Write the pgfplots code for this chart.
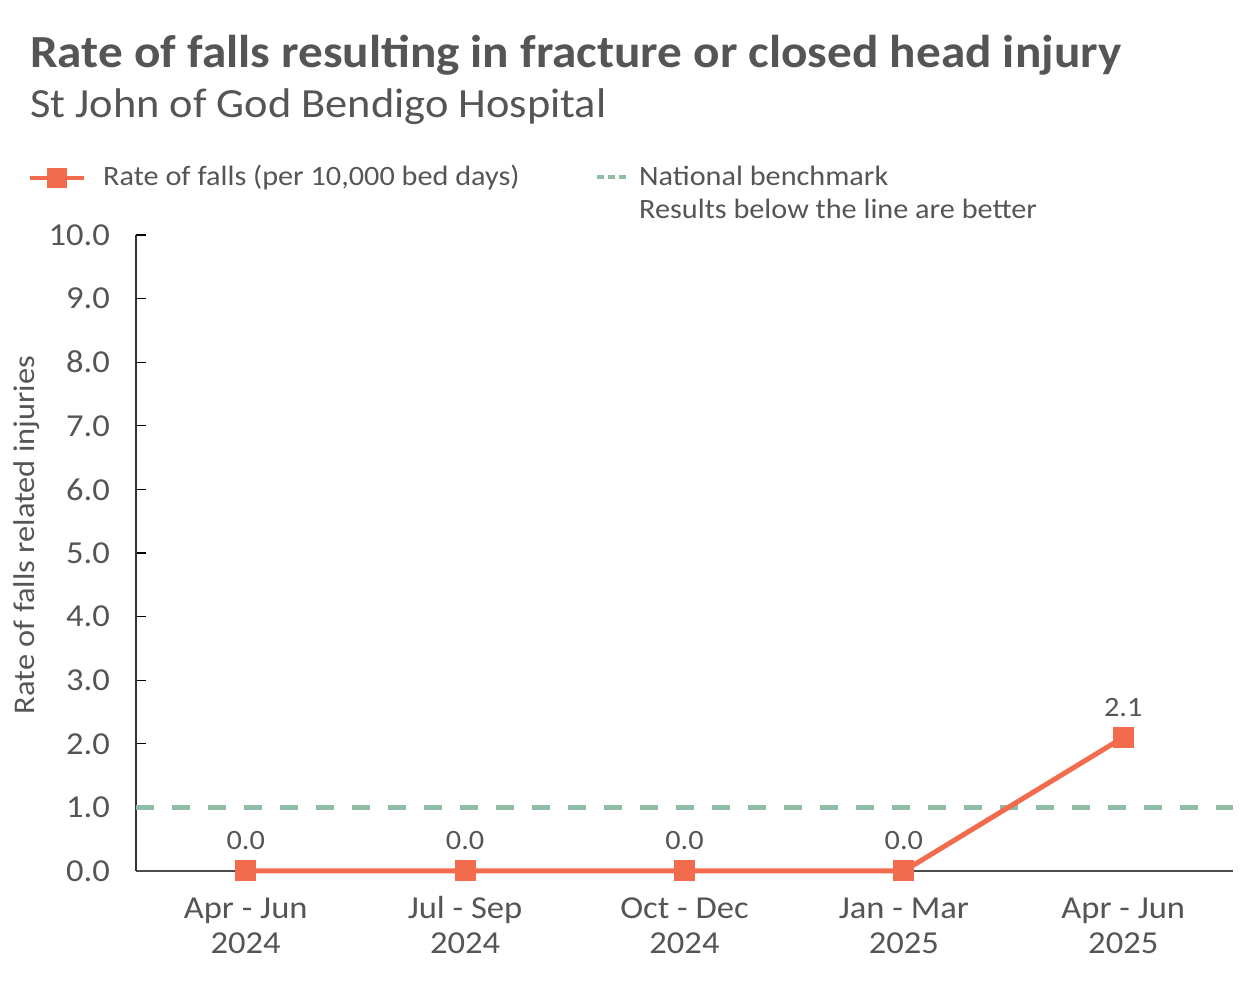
\documentclass[border=0pt]{standalone}
\usepackage{fontspec}
\setmainfont{Carlito}[FakeStretch=1.08]
\newfontfamily\titlefont{Carlito}[FakeStretch=1.07]
\usepackage{pgfplots}
\pgfplotsset{compat=1.18}
\definecolor{txt}{HTML}{555555}
\definecolor{coral}{HTML}{F26B4C}
\definecolor{bench}{HTML}{8FBCA5}
\begin{document}
\begin{tikzpicture}
\path (0pt,0pt) rectangle (1260pt,981pt);
\node[anchor=base west, text=txt, inner sep=0, font=\titlefont\fontsize{46}{52}\selectfont\bfseries] at (30pt,913pt) {Rate of falls resulting in fracture or closed head injury};
\node[anchor=base west, text=txt, inner sep=0, font=\titlefont\fontsize{41.5}{48}\selectfont] at (30pt,863pt) {St John of God Bendigo Hospital};
% legend
\draw[coral, line width=4pt] (30pt,803pt) -- (84pt,803pt);
\fill[coral] (47pt,793pt) rectangle (67pt,813pt);
\node[anchor=base west, text=txt, inner sep=0, font=\fontsize{28}{32}\selectfont] at (103pt,795pt) {Rate of falls (per 10,000 bed days)};
\draw[bench, line width=4pt, dash pattern=on 7pt off 4pt] (597pt,804pt) -- (627pt,804pt);
\node[anchor=base west, text=txt, inner sep=0, font=\fontsize{28}{32}\selectfont] at (639pt,795pt) {National benchmark};
\node[anchor=base west, text=txt, inner sep=0, font=\fontsize{28}{32}\selectfont] at (639pt,762pt) {Results below the line are better};
% y label
\node[rotate=90, text=txt, inner sep=0, font=\fontsize{30}{34}\selectfont] at (27pt,446pt) {Rate of falls related injuries};
\begin{axis}[
  at={(136pt,110pt)}, anchor=south west, scale only axis,
  width=1097pt, height=636pt,
  xmin=-0.5, xmax=4.5, ymin=0, ymax=10,
  axis lines*=left,
  axis line style={line width=1.2pt, draw=black!80},
  x axis line style={draw=black!70},
  xtick={0,1,2,3,4},
  xticklabels={{\strut Apr - Jun\\2024},{\strut Jul - Sep\\2024},{\strut Oct - Dec\\2024},{\strut Jan - Mar\\2025},{\strut Apr - Jun\\2025}},
  xticklabel style={align=center, text=txt, font=\fontsize{32}{35}\selectfont, inner sep=0, anchor=north, yshift=-23pt},
  major x tick style={draw=none},
  ytick={0,1,...,10},
  yticklabel={\pgfmathprintnumber[fixed,fixed zerofill,precision=1]{\tick}},
  yticklabel style={text=txt, font=\fontsize{32}{35}\selectfont, inner sep=0, anchor=east, xshift=-26pt},
  /pgf/number format/assume math mode=true,
  major y tick style={draw=black, line width=1.2pt},
  major tick length=10pt,
  tick align=inside,
  clip=false,
]
\addplot[bench, line width=4.5pt, dash pattern=on 18pt off 18pt, forget plot] coordinates {(-0.5,1) (4.5,1)};
\addplot[coral, line width=5pt, mark=square*, mark size=10pt, mark options={solid, fill=coral, draw=coral, line width=0pt},
  nodes near coords={\pgfmathprintnumber[fixed,fixed zerofill,precision=1]{\pgfplotspointmeta}},
  nodes near coords style={text=txt, font=\fontsize{28}{32}\selectfont, anchor=base, inner sep=0, yshift=21pt},
  /pgf/number format/assume math mode=true]
  coordinates {(0,0) (1,0) (2,0) (3,0) (4,2.1)};
\end{axis}
\end{tikzpicture}
\end{document}
